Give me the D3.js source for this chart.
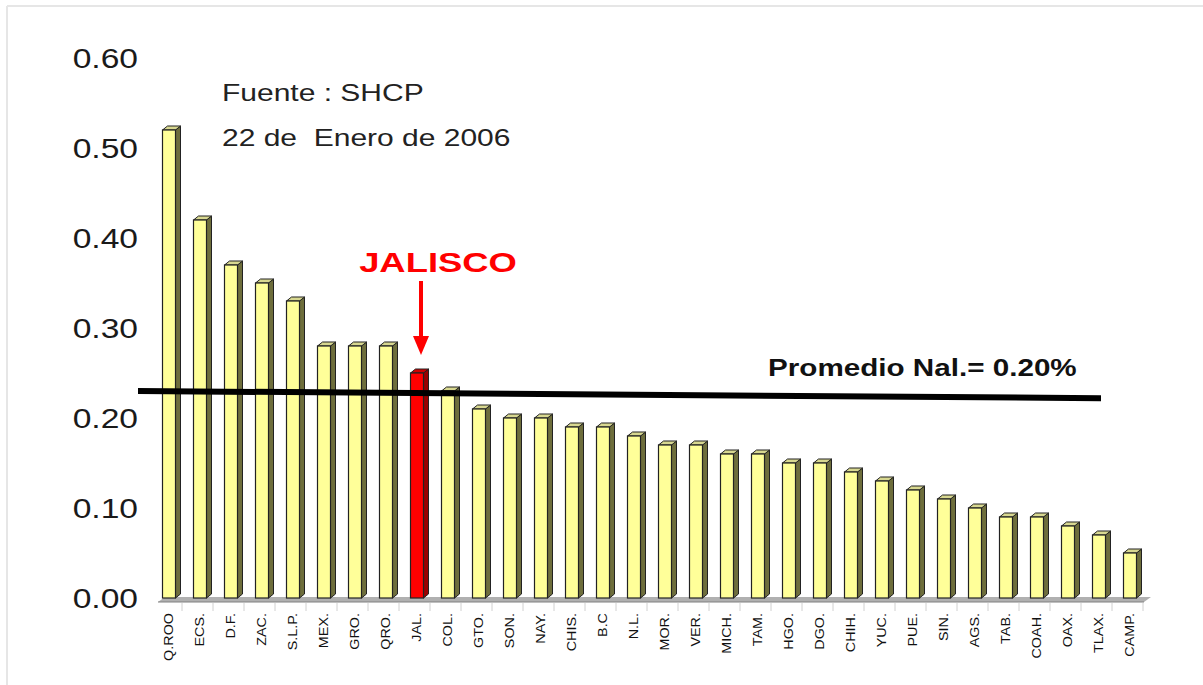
<!DOCTYPE html>
<html>
<head>
<meta charset="utf-8">
<script src="https://cdn.jsdelivr.net/npm/d3@7"></script>
<style>
  body { margin: 0; background: #fff; }
  text { font-family: Arial, "Liberation Sans", sans-serif; }
</style>
</head>
<body>
<div id="chart"></div>
<script>
// data
var estados = ["Q.ROO", "ECS.", "D.F.", "ZAC.", "S.L.P.", "MEX.", "GRO.", "QRO.", "JAL.", "COL.",
  "GTO.", "SON.", "NAY.", "CHIS.", "B.C", "N.L.", "MOR.", "VER.", "MICH.", "TAM.",
  "HGO.", "DGO.", "CHIH.", "YUC.", "PUE.", "SIN.", "AGS.", "TAB.", "COAH.", "OAX.", "TLAX.", "CAMP."];
var valores = [0.52, 0.42, 0.37, 0.35, 0.33, 0.28, 0.28, 0.28, 0.25, 0.23,
  0.21, 0.20, 0.20, 0.19, 0.19, 0.18, 0.17, 0.17, 0.16, 0.16,
  0.15, 0.15, 0.14, 0.13, 0.12, 0.11, 0.10, 0.09, 0.09, 0.08, 0.07, 0.05];
var yTicks = [0, 0.1, 0.2, 0.3, 0.4, 0.5, 0.6];
var promedio = [0.23, 0.222]; // line as drawn (left end, right end)
var destacado = "JAL.";

var w = 1203;
var h = 685;
var stretch = 1.2; // the original text is a bit wide

var svg = d3.select("#chart")
    .append("svg")
    .attr("width", w)
    .attr("height", h);

// thin frame at top and left
svg.append("line").attr("x1", 7).attr("y1", 6).attr("x2", w).attr("y2", 6)
    .attr("stroke", "#e6e6e6").attr("stroke-width", 2);
svg.append("line").attr("x1", 7).attr("y1", 6).attr("x2", 7).attr("y2", h)
    .attr("stroke", "#e6e6e6").attr("stroke-width", 2);

var x = d3.scaleBand().domain(estados).range([156, 156 + estados.length * 31]);
var y = d3.scaleLinear().domain([0, 0.6]).range([598, 58]);

var depth = 5;   // 3d side depth
var faceW = 13;

function wide(px, py, s) {
    return "translate(" + px + "," + py + ") scale(" + (s || stretch) + ",1)";
}

// y tick labels
svg.selectAll("text.ytick")
    .data(yTicks)
    .enter()
    .append("text")
    .attr("class", "ytick")
    .attr("transform", function (d) { return wide(138, y(d)); })
    .attr("dy", "0.36em")
    .attr("text-anchor", "end")
    .attr("font-size", 28)
    .attr("fill", "#1a1a1a")
    .text(function (d) { return d.toFixed(2); });

// floor
var fx0 = x.range()[0] + 2, fx1 = x.range()[1] - 4;
svg.append("path")
    .attr("d", "M" + fx0 + "," + (y(0) + 4) + " L" + fx1 + "," + (y(0) + 4) +
      " L" + (fx1 + depth + 2) + "," + (y(0) - 1) + " L" + (fx0 + depth + 2) + "," + (y(0) - 1) + "Z")
    .attr("fill", "#b0b0b0");
svg.append("line")
    .attr("x1", fx0).attr("x2", fx1)
    .attr("y1", y(0) + 4).attr("y2", y(0) + 4)
    .attr("stroke", "#808080").attr("stroke-width", 1);

// ticks between categories
svg.selectAll("line.xtick")
    .data(estados)
    .enter()
    .append("line")
    .attr("class", "xtick")
    .attr("x1", function (d) { return x(d) + x.step() - 5; })
    .attr("x2", function (d) { return x(d) + x.step() - 5; })
    .attr("y1", y(0) + 5)
    .attr("y2", y(0) + 13)
    .attr("stroke", "#d0d0d0")
    .attr("stroke-width", 1);

function faceX(d) { return x(d) + (x.step() - faceW - depth) / 2; }

var bars = svg.selectAll("g.bar")
    .data(estados.map(function (e, i) { return { e: e, v: valores[i] }; }))
    .enter()
    .append("g")
    .attr("class", "bar");

// side
bars.append("path")
    .attr("d", function (d) {
      var x0 = faceX(d.e) + faceW, yt = y(d.v), yb = y(0);
      return "M" + x0 + "," + yt + " L" + (x0 + depth) + "," + (yt - depth + 1) +
        " L" + (x0 + depth) + "," + (yb - depth + 1) + " L" + x0 + "," + yb + "Z";
    })
    .attr("fill", function (d) { return d.e === destacado ? "#9a0000" : "#6e6e3c"; })
    .attr("stroke", "#222").attr("stroke-width", 1);

// top
bars.append("path")
    .attr("d", function (d) {
      var x0 = faceX(d.e), yt = y(d.v);
      return "M" + x0 + "," + yt + " L" + (x0 + depth) + "," + (yt - depth + 1) +
        " L" + (x0 + faceW + depth) + "," + (yt - depth + 1) + " L" + (x0 + faceW) + "," + yt + "Z";
    })
    .attr("fill", function (d) { return d.e === destacado ? "#d00000" : "#d8d890"; })
    .attr("stroke", "#222").attr("stroke-width", 1);

// face
bars.append("rect")
    .attr("x", function (d) { return faceX(d.e); })
    .attr("y", function (d) { return y(d.v); })
    .attr("width", faceW)
    .attr("height", function (d) { return y(0) - y(d.v); })
    .attr("fill", function (d) { return d.e === destacado ? "#ff0000" : "#ffff99"; })
    .attr("stroke", "#222").attr("stroke-width", 1.2);

// category labels, rotated
svg.selectAll("text.xlab")
    .data(estados)
    .enter()
    .append("text")
    .attr("class", "xlab")
    .attr("transform", function (d) {
      return "translate(" + (faceX(d) + faceW / 2 + 4) + "," + (y(0) + 15) + ") rotate(-90) scale(1.15,1)";
    })
    .attr("text-anchor", "end")
    .attr("font-size", 12.5)
    .attr("fill", "#111")
    .text(function (d) { return d; });

// national average line
svg.append("line")
    .attr("x1", 138).attr("x2", 1101)
    .attr("y1", y(promedio[0])).attr("y2", y(promedio[1]))
    .attr("stroke", "#000").attr("stroke-width", 6);

svg.append("text")
    .attr("transform", wide(768, 376, 1.235))
    .attr("font-size", 24).attr("font-weight", "bold")
    .attr("fill", "#111")
    .text("Promedio Nal.= 0.20%");

// source notes
svg.append("text")
    .attr("transform", wide(222, 101, 1.25))
    .attr("font-size", 24).attr("fill", "#222")
    .text("Fuente : SHCP");
svg.append("text")
    .attr("transform", wide(222, 146, 1.25))
    .attr("font-size", 24).attr("fill", "#222")
    .style("white-space", "pre")
    .text("22 de  Enero de 2006");

// JALISCO callout
var jx = faceX(destacado) + faceW / 2;
svg.append("text")
    .attr("transform", wide(438, 272, 1.3))
    .attr("text-anchor", "middle")
    .attr("font-size", 28).attr("font-weight", "bold")
    .attr("fill", "#ff0000")
    .text("JALISCO");
svg.append("line")
    .attr("x1", jx + 4).attr("x2", jx + 4)
    .attr("y1", 281).attr("y2", 340)
    .attr("stroke", "#ff0000").attr("stroke-width", 4);
svg.append("path")
    .attr("d", "M" + (jx - 4) + ",336 L" + (jx + 12) + ",336 L" + (jx + 4) + ",355Z")
    .attr("fill", "#ff0000");
</script>
</body>
</html>
